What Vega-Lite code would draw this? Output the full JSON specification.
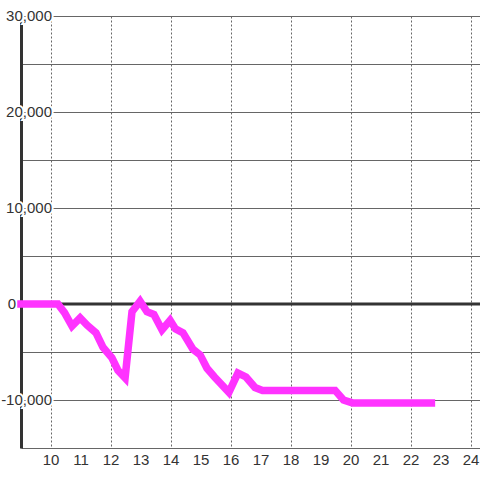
{
  "$schema": "https://vega.github.io/schema/vega-lite/v6.json",
  "width": 459,
  "height": 432,
  "autosize": {"type": "none"},
  "padding": {"left": 21, "top": 16, "right": 0, "bottom": 32},
  "background": "white",
  "config": {"view": {"stroke": null}},
  "datasets": {
    "pnl": [
      {"hour": 9.0, "value": 0},
      {"hour": 10.23, "value": 0},
      {"hour": 10.45, "value": -900},
      {"hour": 10.7, "value": -2300},
      {"hour": 10.97, "value": -1450},
      {"hour": 11.2, "value": -2200},
      {"hour": 11.5, "value": -3000},
      {"hour": 11.73, "value": -4500},
      {"hour": 12.03, "value": -5600},
      {"hour": 12.23, "value": -6900},
      {"hour": 12.47, "value": -7700},
      {"hour": 12.7, "value": -800},
      {"hour": 12.97, "value": 300},
      {"hour": 13.2, "value": -800},
      {"hour": 13.43, "value": -1100},
      {"hour": 13.7, "value": -2700},
      {"hour": 13.97, "value": -1700},
      {"hour": 14.15, "value": -2600},
      {"hour": 14.4, "value": -3000},
      {"hour": 14.73, "value": -4700},
      {"hour": 14.97, "value": -5300},
      {"hour": 15.2, "value": -6700},
      {"hour": 15.45, "value": -7600},
      {"hour": 15.93, "value": -9200},
      {"hour": 16.23, "value": -7200},
      {"hour": 16.5, "value": -7600},
      {"hour": 16.8, "value": -8700},
      {"hour": 17.05, "value": -9000},
      {"hour": 19.47, "value": -9000},
      {"hour": 19.75, "value": -10000},
      {"hour": 20.05, "value": -10300},
      {"hour": 22.68, "value": -10300}
    ],
    "ylabels": [
      {"v": 30000, "t": "30,000"},
      {"v": 20000, "t": "20,000"},
      {"v": 10000, "t": "10,000"},
      {"v": -10000, "t": "-10,000"}
    ],
    "xlabels": [
      {"h": 10}, {"h": 11}, {"h": 12}, {"h": 13}, {"h": 14}, {"h": 15}, {"h": 16}, {"h": 17},
      {"h": 18}, {"h": 19}, {"h": 20}, {"h": 21}, {"h": 22}, {"h": 23}, {"h": 24}
    ]
  },
  "layer": [
    {
      "data": {"values": [{"z": 0}]},
      "mark": {"type": "rule", "color": "#333", "strokeWidth": 3},
      "encoding": {
        "y": {
          "field": "z", "type": "quantitative",
          "scale": {"domain": [-15000, 30000], "nice": false},
          "axis": {
            "title": null,
            "values": [-15000,-10000,-5000,0,5000,10000,15000,20000,25000,30000],
            "labels": false, "ticks": false,
            "domain": true, "domainColor": "#333", "domainWidth": 3,
            "grid": true, "gridColor": "#666", "gridWidth": 1
          }
        }
      }
    },
    {
      "data": {"name": "pnl"},
      "mark": {"type": "line", "color": "#ff33ff", "strokeWidth": 7.5, "strokeCap": "square"},
      "encoding": {
        "x": {
          "field": "hour", "type": "quantitative",
          "scale": {"domain": [9, 24.3], "nice": false, "zero": false},
          "axis": {
            "title": null, "values": [10,11,12,13,14,15,16,17,18,19,20,21,22,23,24],
            "domain": false, "ticks": false, "labels": false,
            "grid": true, "gridColor": "#666", "gridDash": [2, 2], "gridWidth": 1
          }
        },
        "y": {"field": "value", "type": "quantitative"}
      }
    },
    {
      "data": {"name": "xlabels"},
      "mark": {"type": "text", "align": "center", "baseline": "top", "dy": 5, "font": "Liberation Sans, Arial, sans-serif", "fontSize": 15, "fill": "#333"},
      "encoding": {
        "x": {"field": "h", "type": "quantitative"},
        "y": {"datum": -15000, "type": "quantitative"},
        "text": {"field": "h", "type": "quantitative"}
      }
    },
    {
      "data": {"name": "ylabels"},
      "mark": {"type": "text", "align": "right", "baseline": "middle", "dx": 31, "font": "Liberation Sans, Arial, sans-serif", "fontSize": 15, "fill": "white", "stroke": "white", "strokeWidth": 4},
      "encoding": {
        "x": {"datum": 9, "type": "quantitative"},
        "y": {"field": "v", "type": "quantitative"},
        "text": {"field": "t"}
      }
    },
    {
      "data": {"name": "ylabels"},
      "mark": {"type": "text", "align": "right", "baseline": "middle", "dx": 31, "font": "Liberation Sans, Arial, sans-serif", "fontSize": 15, "fill": "#333"},
      "encoding": {
        "x": {"datum": 9, "type": "quantitative"},
        "y": {"field": "v", "type": "quantitative"},
        "text": {"field": "t"}
      }
    },
    {
      "data": {"values": [{"v": 0, "t": "0"}]},
      "mark": {"type": "text", "align": "right", "baseline": "middle", "dx": -5, "font": "Liberation Sans, Arial, sans-serif", "fontSize": 15, "fill": "#333"},
      "encoding": {
        "x": {"datum": 9, "type": "quantitative"},
        "y": {"field": "v", "type": "quantitative"},
        "text": {"field": "t"}
      }
    }
  ]
}
